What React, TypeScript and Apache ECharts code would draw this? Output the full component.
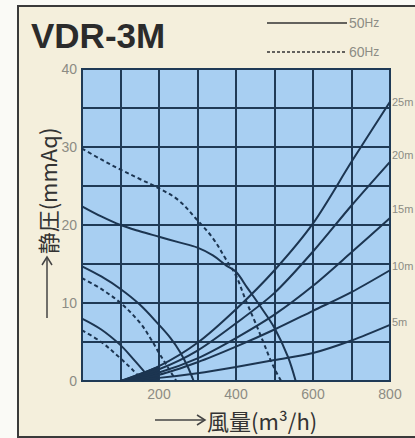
import React, { useEffect, useRef } from "react";
import * as echarts from "echarts";

// ---- Data ----
const xTickLabels = [200, 400, 600, 800];
const yTickLabels = [0, 10, 20, 30, 40];

// Fan curves 50Hz (solid)
const fanHigh50X = [0, 50, 100, 150, 200, 250, 300, 340, 375, 400, 430, 460, 500, 535, 555];
const fanHigh50Y = [22.4, 21.1, 20.0, 19.2, 18.5, 17.8, 17.1, 16.1, 14.8, 14.0, 11.9, 9.8, 6.8, 3.1, 0];
const fanMid50X = [0, 50, 100, 150, 200, 230, 255, 275, 290];
const fanMid50Y = [14.7, 13.4, 11.8, 9.8, 7.2, 5.5, 3.7, 1.8, 0];
const fanLow50X = [0, 50, 100, 130, 160, 180];
const fanLow50Y = [8.0, 6.6, 4.6, 3.0, 1.3, 0];

// Fan curves 60Hz (dashed)
const fanHigh60X = [0, 50, 100, 150, 200, 250, 300, 340, 375, 400, 425, 450, 470, 495, 517];
const fanHigh60Y = [29.8, 28.4, 27.1, 25.9, 24.7, 23.2, 20.6, 18.3, 15.5, 13.5, 10.4, 7.5, 5.1, 2.1, 0];
const fanMid60X = [0, 50, 100, 150, 180, 200, 225, 245];
const fanMid60Y = [13.2, 11.8, 10.0, 7.5, 5.3, 3.6, 1.6, 0];
const fanLow60X = [0, 50, 100, 130, 160];
const fanLow60Y = [6.5, 5.0, 2.9, 1.5, 0];

// Duct resistance curves (5m .. 25m)
const ductX = [100, 200, 300, 400, 500, 600, 700, 800];
const duct25 = [0, 1.9, 4.9, 9.2, 14.2, 20.2, 28.1, 35.8];
const duct20 = [0, 1.5, 3.9, 7.4, 11.3, 16.6, 22.5, 28.1];
const duct15 = [0, 1.1, 2.9, 5.5, 8.5, 12.2, 16.5, 20.9];
const duct10 = [0, 0.8, 2.4, 4.4, 6.6, 9.0, 11.4, 14.2];
const duct5 = [0, 0.4, 1.0, 1.8, 2.7, 3.6, 5.2, 7.2];
const ductNames = ["25m", "20m", "15m", "10m", "5m"];
const ductSets = [duct25, duct20, duct15, duct10, duct5];
const wedgeEndX = 200;

const title = "VDR-3M";
const legend50 = "50";
const legend60 = "60";
const legendUnit = "Hz";
const yName = "静圧(mmAq)";
const xName = "風量(m³/h)";

const LINE = "#1c3551";
const GRID = "#1f3a56";
const LABEL = "#8c8c84";
const TEXT = "#333333";
const LATIN = "Liberation Sans, Arial, sans-serif";
const CJK = "'Noto Sans CJK JP', sans-serif";

function pairs(xs: number[], ys: number[]) {
  return xs.map((x, i) => [x, ys[i]]);
}

export default function App() {
  const ref = useRef<HTMLDivElement>(null);

  useEffect(() => {
    document.body.style.margin = "0";
    if (!ref.current) return;
    const chart = echarts.init(ref.current, undefined, { renderer: "svg" });

    const solid = { color: LINE, width: 2, type: "solid" as const };
    const dashed = { color: LINE, width: 2, type: [4, 3] as any };

    const fanSeries = [
      [fanHigh50X, fanHigh50Y, solid],
      [fanMid50X, fanMid50Y, solid],
      [fanLow50X, fanLow50Y, solid],
      [fanHigh60X, fanHigh60Y, dashed],
      [fanMid60X, fanMid60Y, dashed],
      [fanLow60X, fanLow60Y, dashed],
    ].map(([xs, ys, ls]: any, i) => ({
      type: "line",
      name: "fan" + i,
      data: pairs(xs, ys),
      showSymbol: false,
      smooth: 0.35,
      lineStyle: ls,
      z: 3,
    }));

    const labelOffsets = [[0, 0], [0, -7], [0, -9], [0, -4], [0, -3]];
    const ductSeries = ductSets.map((ys, i) => ({
      type: "line",
      name: ductNames[i],
      data: pairs(ductX, ys),
      showSymbol: false,
      smooth: 0.3,
      lineStyle: { color: LINE, width: 2 },
      z: 3,
      endLabel: {
        show: true,
        formatter: ductNames[i],
        color: LABEL,
        fontSize: 11,
        fontFamily: LATIN,
        distance: 2,
        offset: labelOffsets[i],
      },
    }));

    const wedgeIdx = ductX.filter((x) => x <= wedgeEndX).length;
    const wedge = {
      type: "line",
      name: "wedge",
      data: pairs(ductX.slice(0, wedgeIdx), duct25.slice(0, wedgeIdx)),
      showSymbol: false,
      smooth: 0.3,
      lineStyle: { color: LINE, width: 1 },
      areaStyle: { color: LINE, opacity: 1 },
      z: 3,
    };

    const option: any = {
      animation: false,
      grid: {
        left: 82,
        top: 69,
        width: 308,
        height: 312,
        show: true,
        backgroundColor: "#a8cff2",
        borderColor: GRID,
        borderWidth: 2,
      },
      xAxis: {
        type: "value",
        min: 0,
        max: 800,
        interval: 100,
        axisLine: { show: false },
        axisTick: { show: false },
        splitLine: { show: true, lineStyle: { color: GRID, width: 2 } },
        axisLabel: {
          formatter: (v: number) => (xTickLabels.includes(v) ? String(v) : ""),
          color: LABEL,
          fontSize: 14,
          fontFamily: LATIN,
          margin: 6,
        },
      },
      yAxis: {
        type: "value",
        min: 0,
        max: 40,
        interval: 5,
        axisLine: { show: false },
        axisTick: { show: false },
        splitLine: { show: true, lineStyle: { color: GRID, width: 2 } },
        axisLabel: {
          formatter: (v: number) => (yTickLabels.includes(v) ? String(v) : ""),
          color: LABEL,
          fontSize: 14,
          fontFamily: LATIN,
          margin: 5,
        },
      },
      series: [...fanSeries, ...ductSeries, wedge],
      graphic: [
        {
          type: "text",
          x: 31,
          y: 35,
          style: {
            text: title,
            font: `bold 35px ${LATIN}`,
            fill: "#2b2b2b",
            verticalAlign: "middle",
            align: "left",
          },
        },
        {
          type: "line",
          shape: { x1: 267, y1: 23, x2: 347, y2: 23 },
          style: { stroke: "#333", lineWidth: 1.5 },
        },
        {
          type: "line",
          shape: { x1: 267, y1: 52, x2: 347, y2: 52 },
          style: { stroke: "#333", lineWidth: 1.5, lineDash: [3, 2] },
        },
        {
          type: "text",
          x: 349,
          y: 23,
          style: {
            text: `{n|${legend50}}{h|${legendUnit}}`,
            rich: {
              n: { fontSize: 14, fontFamily: LATIN, fill: LABEL },
              h: { fontSize: 12, fontFamily: LATIN, fill: LABEL },
            },
            verticalAlign: "middle",
            align: "left",
          },
        },
        {
          type: "text",
          x: 349,
          y: 52,
          style: {
            text: `{n|${legend60}}{h|${legendUnit}}`,
            rich: {
              n: { fontSize: 14, fontFamily: LATIN, fill: LABEL },
              h: { fontSize: 12, fontFamily: LATIN, fill: LABEL },
            },
            verticalAlign: "middle",
            align: "left",
          },
        },
        // Y axis name with arrow
        {
          type: "line",
          shape: { x1: 47, y1: 318, x2: 47, y2: 257 },
          style: { stroke: "#444", lineWidth: 1.5 },
        },
        {
          type: "polyline",
          shape: { points: [[42, 265], [47, 257], [52, 265]] },
          style: { stroke: "#444", lineWidth: 1.5, fill: null },
        },
        {
          type: "text",
          x: 47,
          y: 191,
          rotation: Math.PI / 2,
          style: {
            text: yName,
            font: `22px ${CJK}`,
            fill: TEXT,
            align: "center",
            verticalAlign: "middle",
          },
        },
        // X axis name with arrow
        {
          type: "line",
          shape: { x1: 155, y1: 420, x2: 205, y2: 420 },
          style: { stroke: "#444", lineWidth: 1.5 },
        },
        {
          type: "polyline",
          shape: { points: [[197, 415], [205, 420], [197, 425]] },
          style: { stroke: "#444", lineWidth: 1.5, fill: null },
        },
        {
          type: "text",
          x: 207,
          y: 420,
          style: {
            text: xName,
            font: `22px ${CJK}`,
            fill: TEXT,
            align: "left",
            verticalAlign: "middle",
          },
        },
      ],
    };

    chart.setOption(option);
    return () => chart.dispose();
  }, []);

  return (
    <div
      style={{
        position: "relative",
        width: 415,
        height: 438,
        background: "#fafaf6",
        overflow: "hidden",
      }}
    >
      <div
        style={{
          position: "absolute",
          left: 17,
          top: 5,
          width: 420,
          height: 429,
          background: "#f4efdc",
          border: "2px solid #3a3a3a",
        }}
      />
      <div
        ref={ref}
        style={{ position: "absolute", left: 0, top: 0, width: 415, height: 438 }}
      />
    </div>
  );
}
